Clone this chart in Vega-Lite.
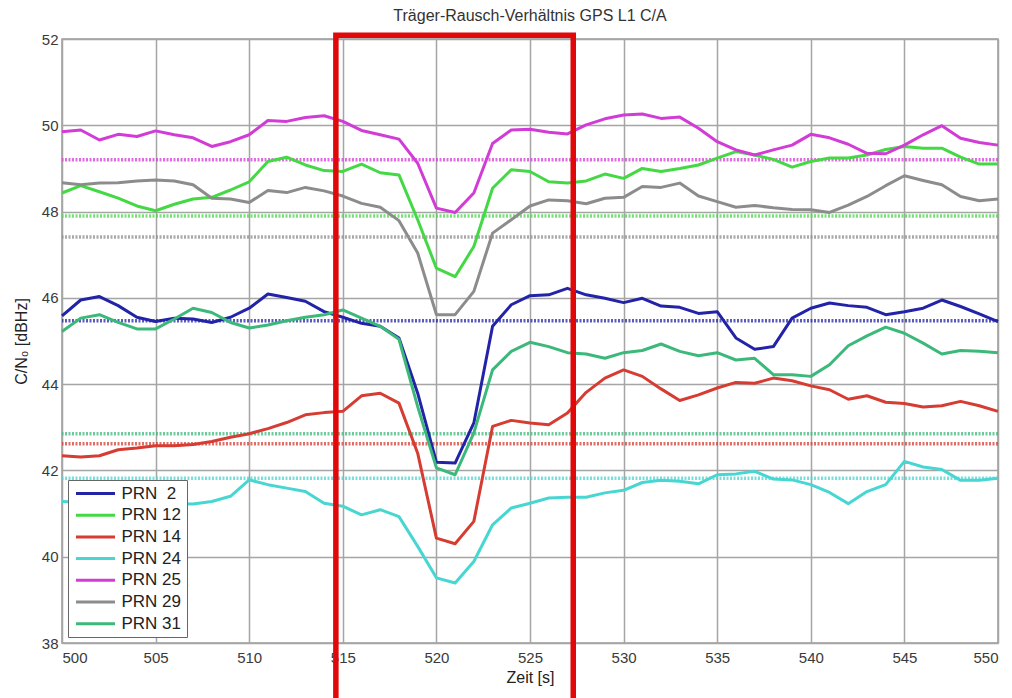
{
  "$schema": "https://vega.github.io/schema/vega-lite/v6.json",
  "autosize": {"type": "none"},
  "width": 936,
  "height": 604,
  "padding": {"left": 62, "top": 39, "right": 14, "bottom": 55},
  "background": "white",
  "title": {"text": "Träger-Rausch-Verhältnis GPS L1 C/A", "fontSize": 16, "fontWeight": "normal", "color": "#333333", "font": "Liberation Sans", "anchor": "middle", "offset": 8},
  "datasets": {
    "series": [
      {"prn": "PRN  2", "time": 500, "cn0": 45.58}, {"prn": "PRN  2", "time": 501, "cn0": 45.95}, {"prn": "PRN  2", "time": 502, "cn0": 46.03}, {"prn": "PRN  2", "time": 503, "cn0": 45.82}, {"prn": "PRN  2", "time": 504, "cn0": 45.55}, {"prn": "PRN  2", "time": 505, "cn0": 45.45}, {"prn": "PRN  2", "time": 506, "cn0": 45.53}, {"prn": "PRN  2", "time": 507, "cn0": 45.51}, {"prn": "PRN  2", "time": 508, "cn0": 45.43}, {"prn": "PRN  2", "time": 509, "cn0": 45.55}, {"prn": "PRN  2", "time": 510, "cn0": 45.76}, {"prn": "PRN  2", "time": 511, "cn0": 46.09}, {"prn": "PRN  2", "time": 512, "cn0": 46.01}, {"prn": "PRN  2", "time": 513, "cn0": 45.92}, {"prn": "PRN  2", "time": 514, "cn0": 45.68}, {"prn": "PRN  2", "time": 515, "cn0": 45.55}, {"prn": "PRN  2", "time": 516, "cn0": 45.41}, {"prn": "PRN  2", "time": 517, "cn0": 45.34}, {"prn": "PRN  2", "time": 518, "cn0": 45.07}, {"prn": "PRN  2", "time": 519, "cn0": 43.79}, {"prn": "PRN  2", "time": 520, "cn0": 42.19}, {"prn": "PRN  2", "time": 521, "cn0": 42.17}, {"prn": "PRN  2", "time": 522, "cn0": 43.10}, {"prn": "PRN  2", "time": 523, "cn0": 45.34}, {"prn": "PRN  2", "time": 524, "cn0": 45.84}, {"prn": "PRN  2", "time": 525, "cn0": 46.05}, {"prn": "PRN  2", "time": 526, "cn0": 46.07}, {"prn": "PRN  2", "time": 527, "cn0": 46.22}, {"prn": "PRN  2", "time": 528, "cn0": 46.07}, {"prn": "PRN  2", "time": 529, "cn0": 45.99}, {"prn": "PRN  2", "time": 530, "cn0": 45.89}, {"prn": "PRN  2", "time": 531, "cn0": 45.99}, {"prn": "PRN  2", "time": 532, "cn0": 45.81}, {"prn": "PRN  2", "time": 533, "cn0": 45.78}, {"prn": "PRN  2", "time": 534, "cn0": 45.64}, {"prn": "PRN  2", "time": 535, "cn0": 45.68}, {"prn": "PRN  2", "time": 536, "cn0": 45.07}, {"prn": "PRN  2", "time": 537, "cn0": 44.81}, {"prn": "PRN  2", "time": 538, "cn0": 44.87}, {"prn": "PRN  2", "time": 539, "cn0": 45.53}, {"prn": "PRN  2", "time": 540, "cn0": 45.76}, {"prn": "PRN  2", "time": 541, "cn0": 45.88}, {"prn": "PRN  2", "time": 542, "cn0": 45.82}, {"prn": "PRN  2", "time": 543, "cn0": 45.78}, {"prn": "PRN  2", "time": 544, "cn0": 45.61}, {"prn": "PRN  2", "time": 545, "cn0": 45.68}, {"prn": "PRN  2", "time": 546, "cn0": 45.76}, {"prn": "PRN  2", "time": 547, "cn0": 45.95}, {"prn": "PRN  2", "time": 548, "cn0": 45.80}, {"prn": "PRN  2", "time": 549, "cn0": 45.63}, {"prn": "PRN  2", "time": 550, "cn0": 45.45},

      {"prn": "PRN 12", "time": 500, "cn0": 48.43}, {"prn": "PRN 12", "time": 501, "cn0": 48.60}, {"prn": "PRN 12", "time": 502, "cn0": 48.46}, {"prn": "PRN 12", "time": 503, "cn0": 48.31}, {"prn": "PRN 12", "time": 504, "cn0": 48.13}, {"prn": "PRN 12", "time": 505, "cn0": 48.02}, {"prn": "PRN 12", "time": 506, "cn0": 48.17}, {"prn": "PRN 12", "time": 507, "cn0": 48.29}, {"prn": "PRN 12", "time": 508, "cn0": 48.33}, {"prn": "PRN 12", "time": 509, "cn0": 48.50}, {"prn": "PRN 12", "time": 510, "cn0": 48.69}, {"prn": "PRN 12", "time": 511, "cn0": 49.16}, {"prn": "PRN 12", "time": 512, "cn0": 49.26}, {"prn": "PRN 12", "time": 513, "cn0": 49.08}, {"prn": "PRN 12", "time": 514, "cn0": 48.95}, {"prn": "PRN 12", "time": 515, "cn0": 48.93}, {"prn": "PRN 12", "time": 516, "cn0": 49.10}, {"prn": "PRN 12", "time": 517, "cn0": 48.90}, {"prn": "PRN 12", "time": 518, "cn0": 48.85}, {"prn": "PRN 12", "time": 519, "cn0": 47.81}, {"prn": "PRN 12", "time": 520, "cn0": 46.69}, {"prn": "PRN 12", "time": 521, "cn0": 46.49}, {"prn": "PRN 12", "time": 522, "cn0": 47.19}, {"prn": "PRN 12", "time": 523, "cn0": 48.54}, {"prn": "PRN 12", "time": 524, "cn0": 48.97}, {"prn": "PRN 12", "time": 525, "cn0": 48.93}, {"prn": "PRN 12", "time": 526, "cn0": 48.69}, {"prn": "PRN 12", "time": 527, "cn0": 48.66}, {"prn": "PRN 12", "time": 528, "cn0": 48.71}, {"prn": "PRN 12", "time": 529, "cn0": 48.87}, {"prn": "PRN 12", "time": 530, "cn0": 48.77}, {"prn": "PRN 12", "time": 531, "cn0": 49.00}, {"prn": "PRN 12", "time": 532, "cn0": 48.93}, {"prn": "PRN 12", "time": 533, "cn0": 49.00}, {"prn": "PRN 12", "time": 534, "cn0": 49.08}, {"prn": "PRN 12", "time": 535, "cn0": 49.24}, {"prn": "PRN 12", "time": 536, "cn0": 49.39}, {"prn": "PRN 12", "time": 537, "cn0": 49.31}, {"prn": "PRN 12", "time": 538, "cn0": 49.21}, {"prn": "PRN 12", "time": 539, "cn0": 49.03}, {"prn": "PRN 12", "time": 540, "cn0": 49.16}, {"prn": "PRN 12", "time": 541, "cn0": 49.24}, {"prn": "PRN 12", "time": 542, "cn0": 49.24}, {"prn": "PRN 12", "time": 543, "cn0": 49.31}, {"prn": "PRN 12", "time": 544, "cn0": 49.44}, {"prn": "PRN 12", "time": 545, "cn0": 49.51}, {"prn": "PRN 12", "time": 546, "cn0": 49.47}, {"prn": "PRN 12", "time": 547, "cn0": 49.47}, {"prn": "PRN 12", "time": 548, "cn0": 49.26}, {"prn": "PRN 12", "time": 549, "cn0": 49.10}, {"prn": "PRN 12", "time": 550, "cn0": 49.10},

      {"prn": "PRN 14", "time": 500, "cn0": 42.34}, {"prn": "PRN 14", "time": 501, "cn0": 42.31}, {"prn": "PRN 14", "time": 502, "cn0": 42.34}, {"prn": "PRN 14", "time": 503, "cn0": 42.48}, {"prn": "PRN 14", "time": 504, "cn0": 42.52}, {"prn": "PRN 14", "time": 505, "cn0": 42.57}, {"prn": "PRN 14", "time": 506, "cn0": 42.57}, {"prn": "PRN 14", "time": 507, "cn0": 42.60}, {"prn": "PRN 14", "time": 508, "cn0": 42.67}, {"prn": "PRN 14", "time": 509, "cn0": 42.77}, {"prn": "PRN 14", "time": 510, "cn0": 42.85}, {"prn": "PRN 14", "time": 511, "cn0": 42.97}, {"prn": "PRN 14", "time": 512, "cn0": 43.11}, {"prn": "PRN 14", "time": 513, "cn0": 43.29}, {"prn": "PRN 14", "time": 514, "cn0": 43.34}, {"prn": "PRN 14", "time": 515, "cn0": 43.37}, {"prn": "PRN 14", "time": 516, "cn0": 43.73}, {"prn": "PRN 14", "time": 517, "cn0": 43.79}, {"prn": "PRN 14", "time": 518, "cn0": 43.56}, {"prn": "PRN 14", "time": 519, "cn0": 42.40}, {"prn": "PRN 14", "time": 520, "cn0": 40.43}, {"prn": "PRN 14", "time": 521, "cn0": 40.30}, {"prn": "PRN 14", "time": 522, "cn0": 40.82}, {"prn": "PRN 14", "time": 523, "cn0": 43.02}, {"prn": "PRN 14", "time": 524, "cn0": 43.16}, {"prn": "PRN 14", "time": 525, "cn0": 43.10}, {"prn": "PRN 14", "time": 526, "cn0": 43.06}, {"prn": "PRN 14", "time": 527, "cn0": 43.33}, {"prn": "PRN 14", "time": 528, "cn0": 43.81}, {"prn": "PRN 14", "time": 529, "cn0": 44.14}, {"prn": "PRN 14", "time": 530, "cn0": 44.33}, {"prn": "PRN 14", "time": 531, "cn0": 44.18}, {"prn": "PRN 14", "time": 532, "cn0": 43.89}, {"prn": "PRN 14", "time": 533, "cn0": 43.62}, {"prn": "PRN 14", "time": 534, "cn0": 43.75}, {"prn": "PRN 14", "time": 535, "cn0": 43.91}, {"prn": "PRN 14", "time": 536, "cn0": 44.04}, {"prn": "PRN 14", "time": 537, "cn0": 44.02}, {"prn": "PRN 14", "time": 538, "cn0": 44.14}, {"prn": "PRN 14", "time": 539, "cn0": 44.08}, {"prn": "PRN 14", "time": 540, "cn0": 43.96}, {"prn": "PRN 14", "time": 541, "cn0": 43.87}, {"prn": "PRN 14", "time": 542, "cn0": 43.65}, {"prn": "PRN 14", "time": 543, "cn0": 43.73}, {"prn": "PRN 14", "time": 544, "cn0": 43.58}, {"prn": "PRN 14", "time": 545, "cn0": 43.55}, {"prn": "PRN 14", "time": 546, "cn0": 43.47}, {"prn": "PRN 14", "time": 547, "cn0": 43.50}, {"prn": "PRN 14", "time": 548, "cn0": 43.60}, {"prn": "PRN 14", "time": 549, "cn0": 43.50}, {"prn": "PRN 14", "time": 550, "cn0": 43.37},

      {"prn": "PRN 24", "time": 500, "cn0": 41.28}, {"prn": "PRN 24", "time": 501, "cn0": 41.26}, {"prn": "PRN 24", "time": 502, "cn0": 41.25}, {"prn": "PRN 24", "time": 503, "cn0": 41.25}, {"prn": "PRN 24", "time": 504, "cn0": 41.24}, {"prn": "PRN 24", "time": 505, "cn0": 41.24}, {"prn": "PRN 24", "time": 506, "cn0": 41.23}, {"prn": "PRN 24", "time": 507, "cn0": 41.22}, {"prn": "PRN 24", "time": 508, "cn0": 41.28}, {"prn": "PRN 24", "time": 509, "cn0": 41.40}, {"prn": "PRN 24", "time": 510, "cn0": 41.78}, {"prn": "PRN 24", "time": 511, "cn0": 41.67}, {"prn": "PRN 24", "time": 512, "cn0": 41.59}, {"prn": "PRN 24", "time": 513, "cn0": 41.51}, {"prn": "PRN 24", "time": 514, "cn0": 41.24}, {"prn": "PRN 24", "time": 515, "cn0": 41.17}, {"prn": "PRN 24", "time": 516, "cn0": 40.97}, {"prn": "PRN 24", "time": 517, "cn0": 41.09}, {"prn": "PRN 24", "time": 518, "cn0": 40.93}, {"prn": "PRN 24", "time": 519, "cn0": 40.24}, {"prn": "PRN 24", "time": 520, "cn0": 39.51}, {"prn": "PRN 24", "time": 521, "cn0": 39.39}, {"prn": "PRN 24", "time": 522, "cn0": 39.89}, {"prn": "PRN 24", "time": 523, "cn0": 40.74}, {"prn": "PRN 24", "time": 524, "cn0": 41.13}, {"prn": "PRN 24", "time": 525, "cn0": 41.24}, {"prn": "PRN 24", "time": 526, "cn0": 41.36}, {"prn": "PRN 24", "time": 527, "cn0": 41.38}, {"prn": "PRN 24", "time": 528, "cn0": 41.38}, {"prn": "PRN 24", "time": 529, "cn0": 41.48}, {"prn": "PRN 24", "time": 530, "cn0": 41.54}, {"prn": "PRN 24", "time": 531, "cn0": 41.72}, {"prn": "PRN 24", "time": 532, "cn0": 41.77}, {"prn": "PRN 24", "time": 533, "cn0": 41.75}, {"prn": "PRN 24", "time": 534, "cn0": 41.69}, {"prn": "PRN 24", "time": 535, "cn0": 41.90}, {"prn": "PRN 24", "time": 536, "cn0": 41.92}, {"prn": "PRN 24", "time": 537, "cn0": 41.98}, {"prn": "PRN 24", "time": 538, "cn0": 41.80}, {"prn": "PRN 24", "time": 539, "cn0": 41.78}, {"prn": "PRN 24", "time": 540, "cn0": 41.67}, {"prn": "PRN 24", "time": 541, "cn0": 41.49}, {"prn": "PRN 24", "time": 542, "cn0": 41.23}, {"prn": "PRN 24", "time": 543, "cn0": 41.51}, {"prn": "PRN 24", "time": 544, "cn0": 41.67}, {"prn": "PRN 24", "time": 545, "cn0": 42.21}, {"prn": "PRN 24", "time": 546, "cn0": 42.08}, {"prn": "PRN 24", "time": 547, "cn0": 42.02}, {"prn": "PRN 24", "time": 548, "cn0": 41.77}, {"prn": "PRN 24", "time": 549, "cn0": 41.77}, {"prn": "PRN 24", "time": 550, "cn0": 41.82},

      {"prn": "PRN 25", "time": 500, "cn0": 49.85}, {"prn": "PRN 25", "time": 501, "cn0": 49.89}, {"prn": "PRN 25", "time": 502, "cn0": 49.66}, {"prn": "PRN 25", "time": 503, "cn0": 49.79}, {"prn": "PRN 25", "time": 504, "cn0": 49.74}, {"prn": "PRN 25", "time": 505, "cn0": 49.87}, {"prn": "PRN 25", "time": 506, "cn0": 49.78}, {"prn": "PRN 25", "time": 507, "cn0": 49.71}, {"prn": "PRN 25", "time": 508, "cn0": 49.51}, {"prn": "PRN 25", "time": 509, "cn0": 49.62}, {"prn": "PRN 25", "time": 510, "cn0": 49.78}, {"prn": "PRN 25", "time": 511, "cn0": 50.11}, {"prn": "PRN 25", "time": 512, "cn0": 50.09}, {"prn": "PRN 25", "time": 513, "cn0": 50.18}, {"prn": "PRN 25", "time": 514, "cn0": 50.22}, {"prn": "PRN 25", "time": 515, "cn0": 50.09}, {"prn": "PRN 25", "time": 516, "cn0": 49.88}, {"prn": "PRN 25", "time": 517, "cn0": 49.78}, {"prn": "PRN 25", "time": 518, "cn0": 49.68}, {"prn": "PRN 25", "time": 519, "cn0": 49.12}, {"prn": "PRN 25", "time": 520, "cn0": 48.08}, {"prn": "PRN 25", "time": 521, "cn0": 47.98}, {"prn": "PRN 25", "time": 522, "cn0": 48.43}, {"prn": "PRN 25", "time": 523, "cn0": 49.58}, {"prn": "PRN 25", "time": 524, "cn0": 49.89}, {"prn": "PRN 25", "time": 525, "cn0": 49.91}, {"prn": "PRN 25", "time": 526, "cn0": 49.84}, {"prn": "PRN 25", "time": 527, "cn0": 49.80}, {"prn": "PRN 25", "time": 528, "cn0": 50.01}, {"prn": "PRN 25", "time": 529, "cn0": 50.15}, {"prn": "PRN 25", "time": 530, "cn0": 50.24}, {"prn": "PRN 25", "time": 531, "cn0": 50.26}, {"prn": "PRN 25", "time": 532, "cn0": 50.16}, {"prn": "PRN 25", "time": 533, "cn0": 50.19}, {"prn": "PRN 25", "time": 534, "cn0": 49.93}, {"prn": "PRN 25", "time": 535, "cn0": 49.62}, {"prn": "PRN 25", "time": 536, "cn0": 49.43}, {"prn": "PRN 25", "time": 537, "cn0": 49.31}, {"prn": "PRN 25", "time": 538, "cn0": 49.43}, {"prn": "PRN 25", "time": 539, "cn0": 49.54}, {"prn": "PRN 25", "time": 540, "cn0": 49.79}, {"prn": "PRN 25", "time": 541, "cn0": 49.71}, {"prn": "PRN 25", "time": 542, "cn0": 49.56}, {"prn": "PRN 25", "time": 543, "cn0": 49.35}, {"prn": "PRN 25", "time": 544, "cn0": 49.34}, {"prn": "PRN 25", "time": 545, "cn0": 49.54}, {"prn": "PRN 25", "time": 546, "cn0": 49.78}, {"prn": "PRN 25", "time": 547, "cn0": 49.99}, {"prn": "PRN 25", "time": 548, "cn0": 49.70}, {"prn": "PRN 25", "time": 549, "cn0": 49.60}, {"prn": "PRN 25", "time": 550, "cn0": 49.54},

      {"prn": "PRN 29", "time": 500, "cn0": 48.67}, {"prn": "PRN 29", "time": 501, "cn0": 48.62}, {"prn": "PRN 29", "time": 502, "cn0": 48.66}, {"prn": "PRN 29", "time": 503, "cn0": 48.67}, {"prn": "PRN 29", "time": 504, "cn0": 48.71}, {"prn": "PRN 29", "time": 505, "cn0": 48.73}, {"prn": "PRN 29", "time": 506, "cn0": 48.71}, {"prn": "PRN 29", "time": 507, "cn0": 48.62}, {"prn": "PRN 29", "time": 508, "cn0": 48.31}, {"prn": "PRN 29", "time": 509, "cn0": 48.29}, {"prn": "PRN 29", "time": 510, "cn0": 48.21}, {"prn": "PRN 29", "time": 511, "cn0": 48.49}, {"prn": "PRN 29", "time": 512, "cn0": 48.44}, {"prn": "PRN 29", "time": 513, "cn0": 48.56}, {"prn": "PRN 29", "time": 514, "cn0": 48.48}, {"prn": "PRN 29", "time": 515, "cn0": 48.36}, {"prn": "PRN 29", "time": 516, "cn0": 48.19}, {"prn": "PRN 29", "time": 517, "cn0": 48.10}, {"prn": "PRN 29", "time": 518, "cn0": 47.79}, {"prn": "PRN 29", "time": 519, "cn0": 47.04}, {"prn": "PRN 29", "time": 520, "cn0": 45.61}, {"prn": "PRN 29", "time": 521, "cn0": 45.61}, {"prn": "PRN 29", "time": 522, "cn0": 46.15}, {"prn": "PRN 29", "time": 523, "cn0": 47.50}, {"prn": "PRN 29", "time": 524, "cn0": 47.81}, {"prn": "PRN 29", "time": 525, "cn0": 48.13}, {"prn": "PRN 29", "time": 526, "cn0": 48.27}, {"prn": "PRN 29", "time": 527, "cn0": 48.25}, {"prn": "PRN 29", "time": 528, "cn0": 48.18}, {"prn": "PRN 29", "time": 529, "cn0": 48.31}, {"prn": "PRN 29", "time": 530, "cn0": 48.33}, {"prn": "PRN 29", "time": 531, "cn0": 48.58}, {"prn": "PRN 29", "time": 532, "cn0": 48.56}, {"prn": "PRN 29", "time": 533, "cn0": 48.66}, {"prn": "PRN 29", "time": 534, "cn0": 48.36}, {"prn": "PRN 29", "time": 535, "cn0": 48.23}, {"prn": "PRN 29", "time": 536, "cn0": 48.10}, {"prn": "PRN 29", "time": 537, "cn0": 48.14}, {"prn": "PRN 29", "time": 538, "cn0": 48.09}, {"prn": "PRN 29", "time": 539, "cn0": 48.05}, {"prn": "PRN 29", "time": 540, "cn0": 48.04}, {"prn": "PRN 29", "time": 541, "cn0": 47.98}, {"prn": "PRN 29", "time": 542, "cn0": 48.15}, {"prn": "PRN 29", "time": 543, "cn0": 48.35}, {"prn": "PRN 29", "time": 544, "cn0": 48.60}, {"prn": "PRN 29", "time": 545, "cn0": 48.83}, {"prn": "PRN 29", "time": 546, "cn0": 48.72}, {"prn": "PRN 29", "time": 547, "cn0": 48.62}, {"prn": "PRN 29", "time": 548, "cn0": 48.35}, {"prn": "PRN 29", "time": 549, "cn0": 48.25}, {"prn": "PRN 29", "time": 550, "cn0": 48.29},

      {"prn": "PRN 31", "time": 500, "cn0": 45.22}, {"prn": "PRN 31", "time": 501, "cn0": 45.53}, {"prn": "PRN 31", "time": 502, "cn0": 45.61}, {"prn": "PRN 31", "time": 503, "cn0": 45.43}, {"prn": "PRN 31", "time": 504, "cn0": 45.28}, {"prn": "PRN 31", "time": 505, "cn0": 45.28}, {"prn": "PRN 31", "time": 506, "cn0": 45.51}, {"prn": "PRN 31", "time": 507, "cn0": 45.76}, {"prn": "PRN 31", "time": 508, "cn0": 45.66}, {"prn": "PRN 31", "time": 509, "cn0": 45.43}, {"prn": "PRN 31", "time": 510, "cn0": 45.30}, {"prn": "PRN 31", "time": 511, "cn0": 45.37}, {"prn": "PRN 31", "time": 512, "cn0": 45.47}, {"prn": "PRN 31", "time": 513, "cn0": 45.55}, {"prn": "PRN 31", "time": 514, "cn0": 45.61}, {"prn": "PRN 31", "time": 515, "cn0": 45.72}, {"prn": "PRN 31", "time": 516, "cn0": 45.53}, {"prn": "PRN 31", "time": 517, "cn0": 45.34}, {"prn": "PRN 31", "time": 518, "cn0": 45.04}, {"prn": "PRN 31", "time": 519, "cn0": 43.48}, {"prn": "PRN 31", "time": 520, "cn0": 42.06}, {"prn": "PRN 31", "time": 521, "cn0": 41.90}, {"prn": "PRN 31", "time": 522, "cn0": 42.87}, {"prn": "PRN 31", "time": 523, "cn0": 44.33}, {"prn": "PRN 31", "time": 524, "cn0": 44.76}, {"prn": "PRN 31", "time": 525, "cn0": 44.97}, {"prn": "PRN 31", "time": 526, "cn0": 44.87}, {"prn": "PRN 31", "time": 527, "cn0": 44.73}, {"prn": "PRN 31", "time": 528, "cn0": 44.70}, {"prn": "PRN 31", "time": 529, "cn0": 44.60}, {"prn": "PRN 31", "time": 530, "cn0": 44.73}, {"prn": "PRN 31", "time": 531, "cn0": 44.78}, {"prn": "PRN 31", "time": 532, "cn0": 44.93}, {"prn": "PRN 31", "time": 533, "cn0": 44.76}, {"prn": "PRN 31", "time": 534, "cn0": 44.66}, {"prn": "PRN 31", "time": 535, "cn0": 44.73}, {"prn": "PRN 31", "time": 536, "cn0": 44.56}, {"prn": "PRN 31", "time": 537, "cn0": 44.60}, {"prn": "PRN 31", "time": 538, "cn0": 44.22}, {"prn": "PRN 31", "time": 539, "cn0": 44.22}, {"prn": "PRN 31", "time": 540, "cn0": 44.18}, {"prn": "PRN 31", "time": 541, "cn0": 44.45}, {"prn": "PRN 31", "time": 542, "cn0": 44.89}, {"prn": "PRN 31", "time": 543, "cn0": 45.12}, {"prn": "PRN 31", "time": 544, "cn0": 45.32}, {"prn": "PRN 31", "time": 545, "cn0": 45.18}, {"prn": "PRN 31", "time": 546, "cn0": 44.95}, {"prn": "PRN 31", "time": 547, "cn0": 44.70}, {"prn": "PRN 31", "time": 548, "cn0": 44.78}, {"prn": "PRN 31", "time": 549, "cn0": 44.76}, {"prn": "PRN 31", "time": 550, "cn0": 44.73}
    ],
    "refs": [
      {"prn": "PRN  2", "cn0": 45.47},
      {"prn": "PRN 12", "cn0": 47.90},
      {"prn": "PRN 14", "cn0": 42.62},
      {"prn": "PRN 24", "cn0": 41.82},
      {"prn": "PRN 25", "cn0": 49.20},
      {"prn": "PRN 29", "cn0": 47.41},
      {"prn": "PRN 31", "cn0": 42.85}
    ],
    "box": [
      {"time": 514.63, "time2": 527.31, "cn0": 35.5, "cn02": 52.086}
    ]
  },
  "layer": [
    {
      "data": {"name": "refs"},
      "mark": {"type": "rule", "strokeWidth": 3.5, "strokeDash": [2, 1.5], "opacity": 0.75},
      "encoding": {
        "y": {"field": "cn0", "type": "quantitative", "scale": {"domain": [38, 52], "nice": false, "zero": false},
              "axis": {"values": [38, 40, 42, 44, 46, 48, 50, 52], "title": "C/N₀ [dBHz]", "labelPadding": 4, "titlePadding": 12}},
        "color": {"field": "prn", "type": "nominal",
                  "scale": {"domain": ["PRN  2", "PRN 12", "PRN 14", "PRN 24", "PRN 25", "PRN 29", "PRN 31"],
                            "range": ["#2323a8", "#45d845", "#d63c32", "#48d6d2", "#d23cd6", "#8c8c8c", "#3cb97a"]},
                  "legend": {"orient": "none", "legendX": 6, "legendY": 441, "title": null,
                             "symbolType": "M-27,0H12", "symbolSize": 4, "symbolStrokeWidth": 3, "symbolDash": [], "symbolOpacity": 1, "symbolOffset": 21.5,
                             "labelFontSize": 17, "labelFont": "Liberation Sans", "labelColor": "#222222", "labelOffset": 10,
                             "fillColor": "white", "strokeColor": "#666666", "padding": 5, "rowPadding": 3.7,
                             "labelExpr": "replace(datum.label, '  ', '\u00a0\u00a0')"}}
      }
    },
    {
      "data": {"name": "series"},
      "mark": {"type": "line", "strokeWidth": 3, "strokeJoin": "round"},
      "encoding": {
        "x": {"field": "time", "type": "quantitative", "scale": {"domain": [500, 550], "nice": false, "zero": false},
              "axis": {"values": [500, 505, 510, 515, 520, 525, 530, 535, 540, 545, 550], "title": "Zeit [s]", "labelPadding": 7, "titlePadding": 4}},
        "y": {"field": "cn0", "type": "quantitative", "scale": {"domain": [38, 52], "nice": false, "zero": false},
              "axis": {"values": [38, 40, 42, 44, 46, 48, 50, 52], "title": "C/N₀ [dBHz]", "labelPadding": 4, "titlePadding": 12}},
        "color": {"field": "prn", "type": "nominal",
                  "scale": {"domain": ["PRN  2", "PRN 12", "PRN 14", "PRN 24", "PRN 25", "PRN 29", "PRN 31"],
                            "range": ["#2323a8", "#45d845", "#d63c32", "#48d6d2", "#d23cd6", "#8c8c8c", "#3cb97a"]},
                  "legend": {"orient": "none", "legendX": 6, "legendY": 441, "title": null,
                             "symbolType": "M-27,0H12", "symbolSize": 4, "symbolStrokeWidth": 3, "symbolDash": [], "symbolOpacity": 1, "symbolOffset": 21.5,
                             "labelFontSize": 17, "labelFont": "Liberation Sans", "labelColor": "#222222", "labelOffset": 10,
                             "fillColor": "white", "strokeColor": "#666666", "padding": 5, "rowPadding": 3.7,
                             "labelExpr": "replace(datum.label, '  ', '\u00a0\u00a0')"}}
      }
    },
    {
      "data": {"name": "box"},
      "mark": {"type": "rect", "filled": false, "stroke": "#e00808", "strokeWidth": 5.5, "clip": false},
      "encoding": {
        "x": {"field": "time", "type": "quantitative"},
        "x2": {"field": "time2"},
        "y": {"field": "cn0", "type": "quantitative"},
        "y2": {"field": "cn02"}
      }
    }
  ],
  "config": {
    "font": "Liberation Sans",
    "view": {"stroke": "#9a9a9a", "strokeWidth": 1.5},
    "axis": {"grid": true, "gridColor": "#a5a5a5", "gridWidth": 1.5, "gridOpacity": 1, "domain": false, "ticks": false,
             "labelFont": "Liberation Sans", "labelFontSize": 15, "labelColor": "#3a3a3a",
             "titleFont": "Liberation Sans", "titleFontSize": 16, "titleFontWeight": "normal", "titleColor": "#222222"}
  }
}
